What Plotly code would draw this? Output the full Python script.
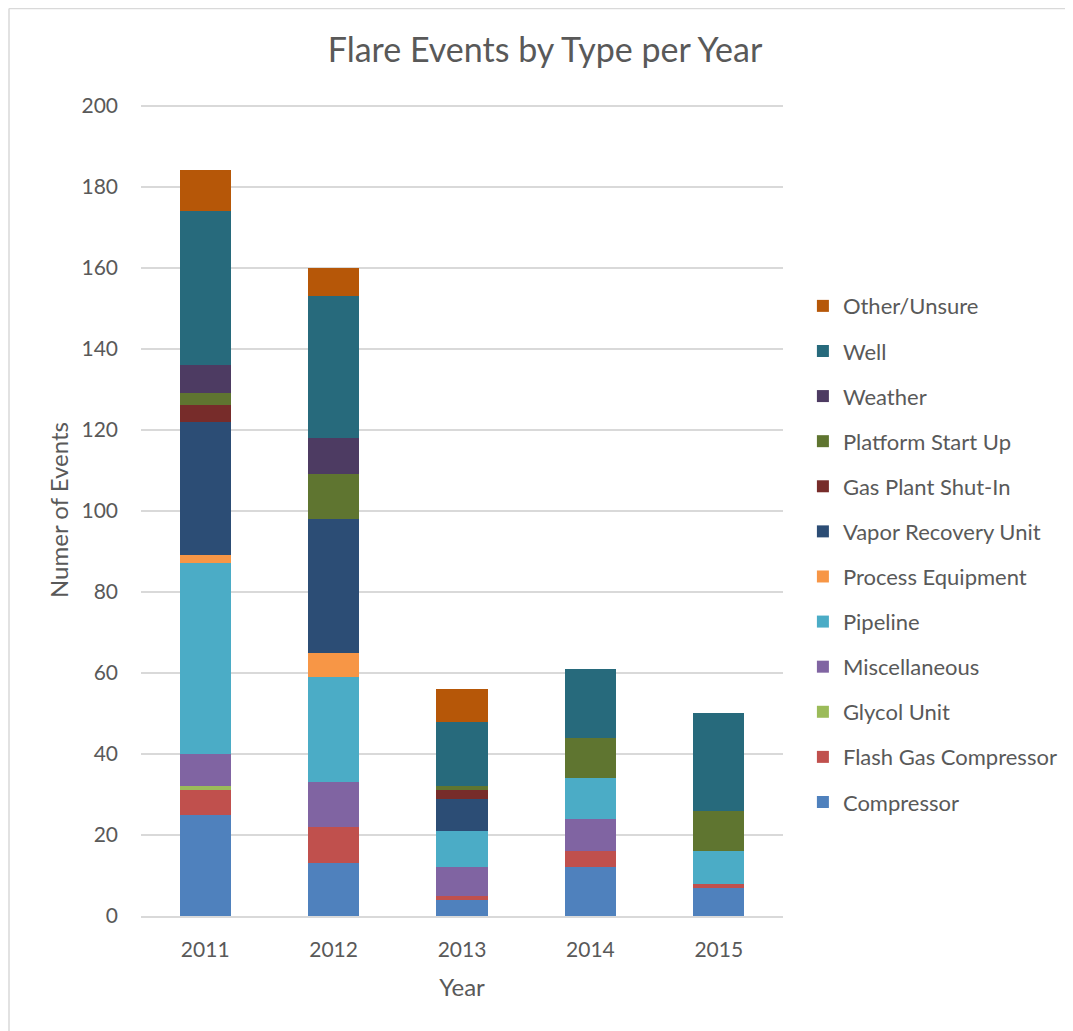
import plotly.graph_objects as go

years = ["2011", "2012", "2013", "2014", "2015"]

compressor = [25, 13, 4, 12, 7]
flash_gas_compressor = [6, 9, 1, 4, 1]
glycol_unit = [1, 0, 0, 0, 0]
miscellaneous = [8, 11, 7, 8, 0]
pipeline = [47, 26, 9, 10, 8]
process_equipment = [2, 6, 0, 0, 0]
vapor_recovery_unit = [33, 33, 8, 0, 0]
gas_plant_shut_in = [4, 0, 2, 0, 0]
platform_start_up = [3, 11, 1, 10, 10]
weather = [7, 9, 0, 0, 0]
well = [38, 35, 16, 17, 24]
other_unsure = [10, 7, 8, 0, 0]

series = [
    ("Compressor", compressor, "#4F81BD"),
    ("Flash Gas Compressor", flash_gas_compressor, "#C0504D"),
    ("Glycol Unit", glycol_unit, "#9BBB59"),
    ("Miscellaneous", miscellaneous, "#8064A2"),
    ("Pipeline", pipeline, "#4BACC6"),
    ("Process Equipment", process_equipment, "#F79646"),
    ("Vapor Recovery Unit", vapor_recovery_unit, "#2C4D75"),
    ("Gas Plant Shut-In", gas_plant_shut_in, "#772C2A"),
    ("Platform Start Up", platform_start_up, "#5F7530"),
    ("Weather", weather, "#4D3B62"),
    ("Well", well, "#276A7C"),
    ("Other/Unsure", other_unsure, "#B65708"),
]

FONT = "Lato"
GRAY = "#595959"

fig = go.Figure()
n = len(series)
for i, (name, vals, color) in enumerate(series):
    fig.add_trace(go.Bar(
        x=years, y=vals, name=name, legendgroup=name, legendrank=n - i,
        marker=dict(color=color, line=dict(width=0)),
    ))

L, R, T, B = 133, 298, 96, 123
pw = 1073 - L - R
ph = 1031 - T - B

fig.update_layout(
    width=1073, height=1031,
    barmode="stack", bargap=0.6,
    plot_bgcolor="white", paper_bgcolor="white",
    margin=dict(l=L, r=R, t=T, b=B),
    font=dict(family=FONT, color=GRAY, size=21),
    title=dict(text="Flare Events by Type per Year", x=537 / 1073, xref="container",
               y=1 - 42 / 1031, yref="container", xanchor="center", yanchor="middle",
               font=dict(family=FONT, size=34, color=GRAY)),
    legend=dict(traceorder="grouped", tracegroupgap=13.5,
                x=1.031, xanchor="left", y=0.777, yanchor="top",
                font=dict(family=FONT, size=22, color=GRAY),
                bgcolor="rgba(0,0,0,0)"),
    xaxis=dict(title=dict(text="Year", standoff=19, font=dict(size=24, color=GRAY)),
               showgrid=False, showline=True, linecolor="#D9D9D9", linewidth=1.5,
               ticks="", tickfont=dict(size=21, color=GRAY), ticklabelstandoff=14),
    yaxis=dict(title=dict(text="Numer of Events", standoff=6, font=dict(size=24, color=GRAY)),
               range=[0, 200.4], tick0=0, dtick=20, showgrid=True, gridcolor="#D9D9D9", gridwidth=1.5,
               zeroline=False, showline=False, ticks="",
               tickfont=dict(size=21, color=GRAY), ticklabelstandoff=22),
    shapes=[
        dict(type="line", xref="paper", yref="paper", x0=(1 - L) / pw, x1=(1 - L) / pw,
             y0=-B / ph - 0.05, y1=(T - 0.5) / ph + 1, line=dict(color="#D9D9D9", width=1.5)),
        dict(type="line", xref="paper", yref="paper", x0=(1 - L) / pw, x1=1.6,
             y0=(T - 0.5) / ph + 1, y1=(T - 0.5) / ph + 1, line=dict(color="#D9D9D9", width=1.5)),
    ],
)

fig.write_html("out.html")
